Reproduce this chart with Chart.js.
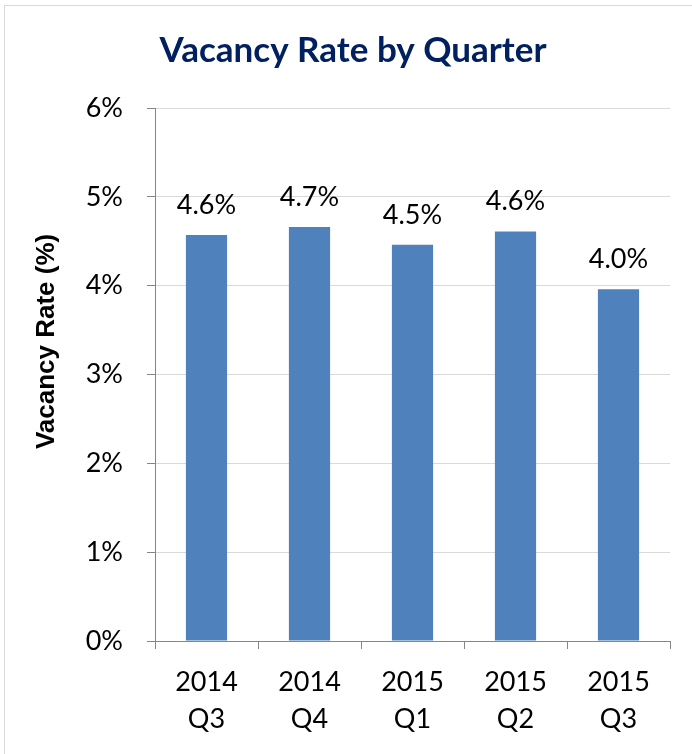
<!DOCTYPE html>
<html>
<head>
<meta charset="utf-8">
<script src="https://cdn.jsdelivr.net/npm/chart.js@4/dist/chart.umd.min.js"></script>
<style>
  html, body { margin: 0; padding: 0; background: #fff; overflow: hidden; }
  #wrap { position: relative; width: 692px; height: 754px; }
  #frame { position: absolute; left: 4px; top: 5px; width: 720px; height: 780px; border: 1px solid #d9d9d9; box-sizing: border-box; pointer-events: none; }
  canvas { position: absolute; left: 0; top: 0; }
</style>
</head>
<body>
<div id="wrap">
  <canvas id="c" width="692" height="754"></canvas>
  <div id="frame"></div>
</div>
<script>
const categories = [["2014", "Q3"], ["2014", "Q4"], ["2015", "Q1"], ["2015", "Q2"], ["2015", "Q3"]];
const vacancyRate = [4.57, 4.66, 4.46, 4.61, 3.96];
const yTicks = [0, 1, 2, 3, 4, 5, 6];
const yAxisTitle = "Vacancy Rate (%)";
const chartTitle = "Vacancy Rate by Quarter";

const FONT = "Lato, 'Open Sans', sans-serif";

const dataLabels = {
  id: 'dataLabels',
  afterDatasetsDraw(chart) {
    const ctx = chart.ctx;
    const meta = chart.getDatasetMeta(0);
    ctx.save();
    ctx.font = "27px " + FONT;
    ctx.fillStyle = "#000";
    ctx.textAlign = "center";
    ctx.textBaseline = "alphabetic";
    meta.data.forEach((bar, i) => {
      const v = chart.data.datasets[0].data[i];
      ctx.fillText(v.toFixed(1) + "%", bar.x, bar.y - 21);
    });
    ctx.restore();
  }
};

// chart title and y-axis title, placed as in the reference
const titles = {
  id: 'titles',
  afterDraw(chart) {
    const ctx = chart.ctx;
    const area = chart.chartArea;
    ctx.save();
    ctx.font = "bold 35px " + FONT;
    ctx.fillStyle = "#002060";
    ctx.textAlign = "center";
    ctx.textBaseline = "alphabetic";
    ctx.fillText(chartTitle, 353, 62);
    ctx.restore();

    ctx.save();
    ctx.translate(47, area.top + (area.bottom - area.top) * 0.438);
    ctx.rotate(-Math.PI / 2);
    ctx.font = "bold 26px 'Liberation Sans', Arial, sans-serif";
    ctx.fillStyle = "#000";
    ctx.textAlign = "center";
    ctx.textBaseline = "middle";
    ctx.fillText(yAxisTitle, 0, 0);
    ctx.restore();
  }
};

new Chart(document.getElementById('c'), {
  type: 'bar',
  data: {
    labels: categories,
    datasets: [{
      data: vacancyRate,
      backgroundColor: '#4f81bd',
      borderWidth: 0,
      barPercentage: 0.4,
      categoryPercentage: 1.0
    }]
  },
  options: {
    responsive: false,
    animation: false,
    devicePixelRatio: 1,
    layout: { padding: { left: 0, right: 22, top: 108, bottom: 0 } },
    plugins: {
      legend: { display: false },
      tooltip: { enabled: false },
      title: { display: false }
    },
    scales: {
      x: {
        offset: true,
        grid: {
          display: true,
          offset: true,
          drawOnChartArea: false,
          drawTicks: true,
          tickLength: 8,
          tickColor: '#868686'
        },
        border: { display: true, color: '#868686', width: 1 },
        ticks: {
          color: '#000',
          font: { family: FONT, size: 27, lineHeight: 1.4 },
          padding: 14,
          maxRotation: 0,
          autoSkip: false
        },
        afterFit(scale) { scale.height = 113; }
      },
      y: {
        min: 0,
        max: 6,
        afterBuildTicks(scale) { scale.ticks = yTicks.map(v => ({ value: v })); },
        grid: {
          color: '#d9d9d9',
          tickColor: '#868686',
          tickLength: 8,
          drawTicks: true
        },
        border: { display: true, color: '#868686', width: 1 },
        ticks: {
          color: '#000',
          font: { family: FONT, size: 27 },
          padding: 24,
          callback: v => v + '%'
        },
        afterFit(scale) { scale.width = 155; }
      }
    }
  },
  plugins: [dataLabels, titles]
});
</script>
</body>
</html>
